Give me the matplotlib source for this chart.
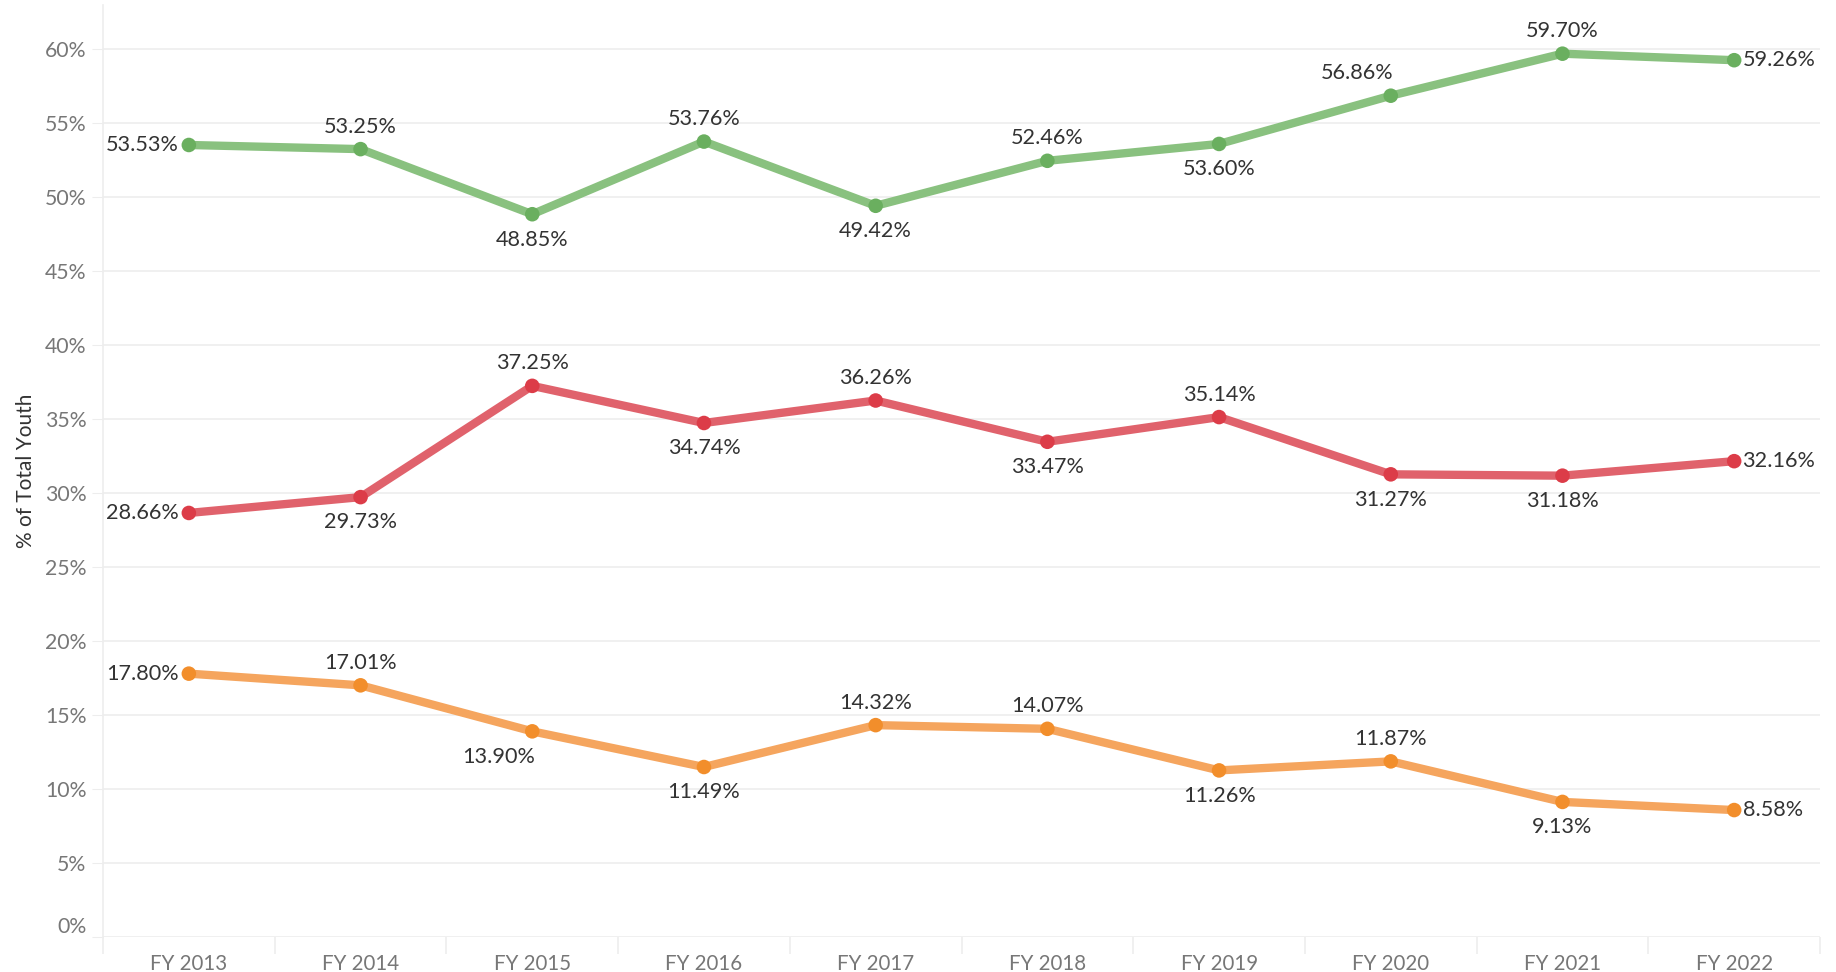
import matplotlib.pyplot as plt
import numpy as np

plt.rcParams['font.family'] = ['Lato', 'DejaVu Sans']

years = ["FY 2013", "FY 2014", "FY 2015", "FY 2016", "FY 2017",
         "FY 2018", "FY 2019", "FY 2020", "FY 2021", "FY 2022"]
green = [53.53, 53.25, 48.85, 53.76, 49.42, 52.46, 53.60, 56.86, 59.70, 59.26]
red = [28.66, 29.73, 37.25, 34.74, 36.26, 33.47, 35.14, 31.27, 31.18, 32.16]
orange = [17.80, 17.01, 13.90, 11.49, 14.32, 14.07, 11.26, 11.87, 9.13, 8.58]

# label placement per point: L=left, R=right, A=above, B=below, AL/BL shifted left
green_pos = ["L", "A", "B", "A", "B", "A", "B", "AL", "A", "R"]
red_pos = ["L", "B", "A", "B", "A", "B", "A", "B", "B", "R"]
orange_pos = ["L", "A", "BL", "B", "A", "A", "B", "A", "B", "R"]

series = [
    (green, green_pos, "#89c17f", "#6aaf5f"),
    (red, red_pos, "#e0626c", "#dc3c48"),
    (orange, orange_pos, "#f5a55e", "#f28e2b"),
]

fig = plt.figure(figsize=(18.36, 9.72), dpi=100)
ax = fig.add_axes([0.0561, 0.036, 0.9352, 0.959])

x = np.arange(len(years))
for vals, pos, lc, mc in series:
    ax.plot(x, vals, color=lc, lw=6, solid_capstyle="round", zorder=3)
    ax.scatter(x, vals, s=110, color=mc, zorder=4, edgecolors="none")
    for xi, v, p in zip(x, vals, pos):
        txt = f"{v:.2f}%"
        if p == "L":
            off, ha, va = (-7, 0), "right", "center"
        elif p == "R":
            off, ha, va = (6, 0), "left", "center"
        elif p == "A":
            off, ha, va = (0, 9), "center", "bottom"
        elif p == "AL":
            off, ha, va = (-24, 9), "center", "bottom"
        elif p == "BL":
            off, ha, va = (-24, -11), "center", "top"
        else:
            off, ha, va = (0, -11), "center", "top"
        ax.annotate(txt, (xi, v), xytext=off, textcoords="offset points",
                    ha=ha, va=va, fontsize=15.6, color="#333333", zorder=5)

ax.set_xlim(-0.5, 9.5)
ax.set_ylim(0, 63)
ax.set_yticks(np.arange(0, 61, 5))
ax.set_yticklabels([f"{t}%" for t in range(0, 61, 5)])
ax.set_xticks(x)
ax.set_xticklabels(years)
ax.set_xticks(np.arange(-0.5, 10, 1), minor=True)

ax.grid(axis="y", color="#ededed", lw=1.2, zorder=0)
for s in ["top", "right", "bottom"]:
    ax.spines[s].set_visible(False)
ax.spines["left"].set_color("#ededed")
ax.spines["left"].set_linewidth(1.2)

ax.tick_params(axis="y", length=8, color="#ededed", labelsize=15.3, labelcolor="#777777", pad=4)
ax.tick_params(axis="x", which="major", length=0, labelsize=14.8, labelcolor="#777777", pad=12)
ax.tick_params(axis="x", which="minor", length=12, color="#ededed", width=1.2)
ax.get_yticklabels()[0].set_va("bottom")

ax.set_ylabel("% of Total Youth", fontsize=15, color="#333333", labelpad=6)

fig.savefig("out.png", dpi=100)
